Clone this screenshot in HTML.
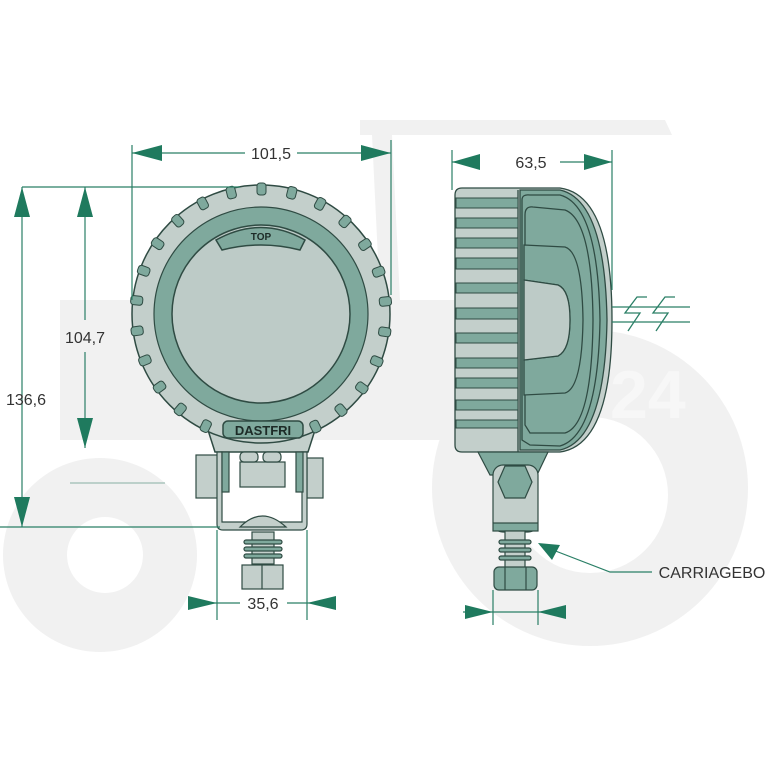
<!DOCTYPE html>
<html><head><style>
html,body{margin:0;padding:0;background:#fff;}
svg{display:block;}
text{font-family:"Liberation Sans",sans-serif;}
</style></head><body>
<svg width="768" height="768" viewBox="0 0 768 768" xmlns="http://www.w3.org/2000/svg">
<!-- watermark tractor -->
<g fill="#f1f1f1">
<path d="M360 120 L665 120 L672 135 L360 135 Z"/>
<path d="M372 135 L392 135 L400 300 L380 300 Z"/>
<rect x="60" y="300" width="420" height="140"/>
<circle cx="590" cy="488" r="158"/>
<circle cx="100" cy="555" r="97"/>
</g>
<g fill="#fff">
<circle cx="590" cy="495" r="78"/>
<circle cx="105" cy="555" r="38"/>
</g>
<text x="610" y="418" font-size="68" font-weight="bold" fill="#f7f7f7">24</text>

<!-- FRONT VIEW -->
<g stroke="#2f4b43" stroke-width="1.5">
<path d="M200 405 L215 452 L308 452 L323 405 Z" fill="#c3cfcb"/>
<circle cx="261" cy="314" r="129" fill="#c3cfcb"/>
<circle cx="261" cy="314" r="107" fill="#7fa99d" stroke-width="1.2"/>
<circle cx="261" cy="314" r="89" fill="#bdcbc7"/>
<path d="M216 240 Q261 215 305 240 L300 250 Q261 240 222 250 Z" fill="#7fa99d"/>
<rect x="223" y="421" width="80" height="17" rx="5" fill="#7fa99d"/>
</g>
<g fill="#7fa99d" stroke="#2f4b43" stroke-width="1">
<rect x="257" y="183" width="9" height="12" rx="3"/>
<rect x="257" y="183" width="9" height="12" rx="3" transform="rotate(14 261 314)"/>
<rect x="257" y="183" width="9" height="12" rx="3" transform="rotate(28 261 314)"/>
<rect x="257" y="183" width="9" height="12" rx="3" transform="rotate(42 261 314)"/>
<rect x="257" y="183" width="9" height="12" rx="3" transform="rotate(56 261 314)"/>
<rect x="257" y="183" width="9" height="12" rx="3" transform="rotate(70 261 314)"/>
<rect x="257" y="183" width="9" height="12" rx="3" transform="rotate(84 261 314)"/>
<rect x="257" y="183" width="9" height="12" rx="3" transform="rotate(98 261 314)"/>
<rect x="257" y="183" width="9" height="12" rx="3" transform="rotate(112 261 314)"/>
<rect x="257" y="183" width="9" height="12" rx="3" transform="rotate(126 261 314)"/>
<rect x="257" y="183" width="9" height="12" rx="3" transform="rotate(140 261 314)"/>
<rect x="257" y="183" width="9" height="12" rx="3" transform="rotate(154 261 314)"/>
<rect x="257" y="183" width="9" height="12" rx="3" transform="rotate(-14 261 314)"/>
<rect x="257" y="183" width="9" height="12" rx="3" transform="rotate(-28 261 314)"/>
<rect x="257" y="183" width="9" height="12" rx="3" transform="rotate(-42 261 314)"/>
<rect x="257" y="183" width="9" height="12" rx="3" transform="rotate(-56 261 314)"/>
<rect x="257" y="183" width="9" height="12" rx="3" transform="rotate(-70 261 314)"/>
<rect x="257" y="183" width="9" height="12" rx="3" transform="rotate(-84 261 314)"/>
<rect x="257" y="183" width="9" height="12" rx="3" transform="rotate(-98 261 314)"/>
<rect x="257" y="183" width="9" height="12" rx="3" transform="rotate(-112 261 314)"/>
<rect x="257" y="183" width="9" height="12" rx="3" transform="rotate(-126 261 314)"/>
<rect x="257" y="183" width="9" height="12" rx="3" transform="rotate(-140 261 314)"/>
<rect x="257" y="183" width="9" height="12" rx="3" transform="rotate(-154 261 314)"/>
</g>
<text x="261" y="240" font-size="10" font-weight="bold" text-anchor="middle" fill="#1d2b27">TOP</text>
<text x="263" y="435" font-size="13" font-weight="bold" text-anchor="middle" fill="#1d2b27">DASTFRI</text>

<!-- bracket -->
<g stroke="#2f4b43" stroke-width="1.2" fill="#c3cfcb">
<rect x="196" y="455" width="22" height="43"/>
<rect x="307" y="458" width="16" height="40"/>
<path d="M217 452 L217 524 Q217 530 223 530 L301 530 Q307 530 307 524 L307 452 L302 452 L302 522 L222 522 L222 452 Z"/>
<rect x="222" y="452" width="7" height="40" fill="#7fa99d"/>
<rect x="296" y="452" width="7" height="40" fill="#7fa99d"/>
<rect x="240" y="462" width="45" height="25"/>
<rect x="240" y="452" width="18" height="10" rx="4"/>
<rect x="263" y="452" width="18" height="10" rx="4"/>
<path d="M240 527 Q262 505 286 527 Z"/>
<rect x="252" y="532" width="22" height="32"/>
<rect x="244" y="540" width="38" height="4" rx="2" fill="#7fa99d"/>
<rect x="244" y="547" width="38" height="4" rx="2" fill="#7fa99d"/>
<rect x="244" y="554" width="38" height="4" rx="2" fill="#7fa99d"/>
<rect x="242" y="565" width="41" height="24"/>
<line x1="262" y1="565" x2="262" y2="589"/>
</g>

<!-- SIDE VIEW -->
<g stroke="#2f4b43" stroke-width="1.3">
<path d="M455 195 Q455 188 462 188 L560 188 Q612 195 612 320 Q612 445 560 452 L462 452 Q455 452 455 445 Z" fill="#c3cfcb"/>
<path d="M520 190 L560 190 Q605 200 607 320 Q605 440 560 450 L520 450 Z" fill="#7fa99d"/>
<path d="M522 200 Q522 194 530 195 L560 195 Q598 205 600 320 Q598 435 560 446 L530 445 L522 440 Z" fill="#7fa99d"/>
<path d="M525 215 Q525 206 533 207 L565 210 Q592 220 593 320 Q592 425 565 433 L530 433 L525 425 Z" fill="#7fa99d"/>
<path d="M524 245 L565 247 Q582 252 583 320 Q582 388 565 393 L524 395 L524 360 L558 356 Q570 350 570 320 Q570 290 558 285 L524 280 Z" fill="#7fa99d"/>
<path d="M524 280 L558 285 Q570 290 570 320 Q570 350 558 356 L524 360 Z" fill="#bdcbc7"/>
<line x1="518" y1="190" x2="518" y2="452"/>
</g>
<g stroke="#2f4b43" stroke-width="1" fill="#7fa99d">
<rect x="456" y="198" width="62" height="10"/>
<rect x="456" y="218" width="62" height="10"/>
<rect x="456" y="238" width="62" height="10"/>
<rect x="456" y="258" width="62" height="11"/>
<rect x="456" y="283" width="62" height="10"/>
<rect x="456" y="308" width="62" height="11"/>
<rect x="456" y="333" width="62" height="10"/>
<rect x="456" y="358" width="62" height="10"/>
<rect x="456" y="378" width="62" height="10"/>
<rect x="456" y="400" width="62" height="10"/>
<rect x="456" y="420" width="62" height="8"/>
</g>
<g stroke="#2f4b43" stroke-width="1.2">
<path d="M478 452 L548 452 L537 475 L490 475 Z" fill="#7fa99d"/>
<rect x="493" y="465" width="45" height="67" rx="10" fill="#c3cfcb"/>
<polygon points="505,466 525,466 532,482 525,498 505,498 498,482" fill="#7fa99d"/>
<rect x="493" y="523" width="45" height="8" fill="#7fa99d"/>
<rect x="505" y="531" width="20" height="38" fill="#c3cfcb"/>
<rect x="499" y="540" width="32" height="4" rx="2" fill="#7fa99d"/>
<rect x="499" y="548" width="32" height="4" rx="2" fill="#7fa99d"/>
<rect x="499" y="556" width="32" height="4" rx="2" fill="#7fa99d"/>
<rect x="494" y="567" width="43" height="23" rx="5" fill="#7fa99d"/>
<line x1="505" y1="567" x2="505" y2="590"/><line x1="526" y1="567" x2="526" y2="590"/>
</g>
<!-- zigzag -->
<g stroke="#2a7f66" stroke-width="1.3" fill="none">
<line x1="612" y1="307" x2="690" y2="307"/>
<line x1="612" y1="322" x2="690" y2="322"/>
<path d="M647 297 L637 297 L625 313 L640 313 L628 331"/>
<path d="M675 297 L665 297 L653 313 L668 313 L656 331"/>
</g>

<!-- DIMENSIONS -->
<g stroke="#2a7f66" stroke-width="1.2" fill="none">
<line x1="132" y1="145" x2="132" y2="300"/>
<line x1="391" y1="140" x2="391" y2="295"/>
<line x1="132" y1="153" x2="245" y2="153"/><line x1="297" y1="153" x2="391" y2="153"/>
<line x1="452" y1="150" x2="452" y2="190"/>
<line x1="612" y1="150" x2="612" y2="290"/>
<line x1="452" y1="162" x2="476" y2="162"/><line x1="560" y1="162" x2="612" y2="162"/>
<line x1="22" y1="187" x2="240" y2="187"/>
<line x1="22" y1="187" x2="22" y2="527"/>
<line x1="85" y1="187" x2="85" y2="320"/><line x1="85" y1="352" x2="85" y2="448"/>
<line x1="70" y1="483" x2="165" y2="483" stroke="#9dbdb3"/>
<line x1="0" y1="527" x2="220" y2="527"/>
<line x1="217" y1="530" x2="217" y2="620"/>
<line x1="307" y1="530" x2="307" y2="620"/>
<line x1="188" y1="603" x2="240" y2="603"/><line x1="287" y1="603" x2="335" y2="603"/>
<line x1="493" y1="590" x2="493" y2="625"/>
<line x1="538" y1="590" x2="538" y2="625"/>
<line x1="463" y1="612" x2="566" y2="612"/>
<path d="M540 545 L610 572 L652 572"/>
</g>
<g fill="#1f7a5e">
<polygon points="132,153 162,145 162,161"/>
<polygon points="391,153 361,145 361,161"/>
<polygon points="452,162 480,154 480,170"/>
<polygon points="612,162 584,154 584,170"/>
<polygon points="22,187 14,217 30,217"/>
<polygon points="22,527 14,497 30,497"/>
<polygon points="85,187 77,217 93,217"/>
<polygon points="85,448 77,418 93,418"/>
<polygon points="217,603 188,596 188,610"/>
<polygon points="307,603 336,596 336,610"/>
<polygon points="493,612 465,605 465,619"/>
<polygon points="538,612 566,605 566,619"/>
<polygon points="538,543 560,545 552,560"/>
</g>
<g font-size="16" fill="#333" text-anchor="middle">
<text x="271" y="159">101,5</text>
<text x="531" y="168">63,5</text>
<text x="85" y="343">104,7</text>
<text x="26" y="405">136,6</text>
<text x="263" y="609">35,6</text>
<text x="712" y="578">CARRIAGEBO</text>
</g>
</svg>
</body></html>
